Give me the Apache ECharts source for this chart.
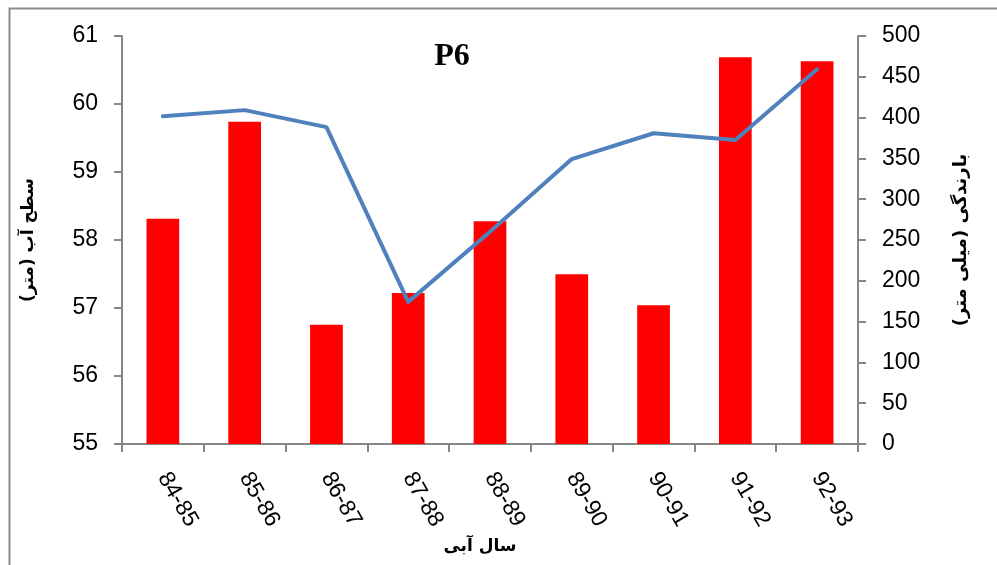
<!DOCTYPE html>
<html>
<head>
<meta charset="utf-8">
<script src="https://cdn.jsdelivr.net/npm/echarts@6/dist/echarts.min.js"></script>
<style>
  html, body { margin: 0; padding: 0; background: #fff; }
  #chart { width: 997px; height: 565px; }
</style>
</head>
<body>
<div id="chart"></div>
<script>
// Water years (Persian calendar)
const years = ['84-85', '85-86', '86-87', '87-88', '88-89', '89-90', '90-91', '91-92', '92-93'];
// Annual precipitation, mm (right axis)
const rainfall = [276, 395, 146, 185, 273, 208, 170, 474, 469];
// Water level at well P6, m (left axis)
const waterLevel = [59.82, 59.91, 59.66, 57.09, 58.12, 59.19, 59.57, 59.47, 60.51];
// Axis ranges
const levelMin = 55, levelMax = 61, levelStep = 1;
const rainMin = 0, rainMax = 500, rainStep = 50;

const axisGray = '#868686';
const tickFont = { fontFamily: 'Liberation Sans, Arial, sans-serif', fontSize: 23, color: '#000' };
const nameFont = { fontFamily: 'DejaVu Sans, sans-serif', fontWeight: 'bold', color: '#000' };

const chart = echarts.init(document.getElementById('chart'), null, { renderer: 'canvas' });
chart.setOption({
  animation: false,
  backgroundColor: '#fff',
  graphic: [{
    type: 'rect',
    shape: { x: 9.5, y: 8.5, width: 1200, height: 800 },
    style: { fill: 'none', stroke: '#8c8c8c', lineWidth: 2 },
    silent: true
  }],
  title: {
    text: 'P6',
    left: 447, top: 36, textAlign: 'center',
    textStyle: { fontFamily: 'Liberation Serif, Times New Roman, serif', fontWeight: 'bold', fontSize: 32, color: '#000' }
  },
  grid: { left: 122, right: 139, top: 36, bottom: 121, containLabel: false },
  xAxis: {
    type: 'category',
    data: years,
    boundaryGap: true,
    name: 'سال آبی',
    nameLocation: 'middle',
    nameGap: 91,
    nameTextStyle: Object.assign({ fontSize: 17, padding: [0, 20, 0, 0] }, nameFont),
    axisLine: { lineStyle: { color: axisGray, width: 2 } },
    axisTick: { show: true, alignWithLabel: false, length: 8, lineStyle: { color: axisGray, width: 2 } },
    axisLabel: Object.assign({ rotate: -60, margin: 30, interval: 0 }, tickFont),
    splitLine: { show: false }
  },
  yAxis: [{
    type: 'value',
    position: 'left',
    min: levelMin, max: levelMax, interval: levelStep,
    name: 'سطح آب (متر)',
    nameLocation: 'middle',
    nameRotate: 90,
    nameGap: 85,
    nameTextStyle: Object.assign({ fontSize: 17 }, nameFont),
    axisLine: { show: true, lineStyle: { color: axisGray, width: 2 } },
    axisTick: { show: true, length: 8, lineStyle: { color: axisGray, width: 2 } },
    axisLabel: Object.assign({ margin: 24 }, tickFont),
    splitLine: { show: false }
  }, {
    type: 'value',
    position: 'right',
    min: rainMin, max: rainMax, interval: rainStep,
    name: 'بارندگی (میلی متر)',
    nameLocation: 'middle',
    nameRotate: 90,
    nameGap: 94,
    nameTextStyle: Object.assign({ fontSize: 18 }, nameFont),
    axisLine: { show: true, lineStyle: { color: axisGray, width: 2 } },
    axisTick: { show: true, length: 8, lineStyle: { color: axisGray, width: 2 } },
    axisLabel: Object.assign({ margin: 24 }, tickFont),
    splitLine: { show: false }
  }],
  series: [{
    name: 'بارندگی',
    type: 'bar',
    yAxisIndex: 1,
    data: rainfall,
    barWidth: '40%',
    itemStyle: { color: '#ff0000' },
    z: 2
  }, {
    name: 'سطح آب',
    type: 'line',
    yAxisIndex: 0,
    data: waterLevel,
    symbol: 'none',
    lineStyle: { color: '#4f81bd', width: 4, cap: 'round', join: 'round' },
    z: 3
  }]
});
</script>
</body>
</html>
